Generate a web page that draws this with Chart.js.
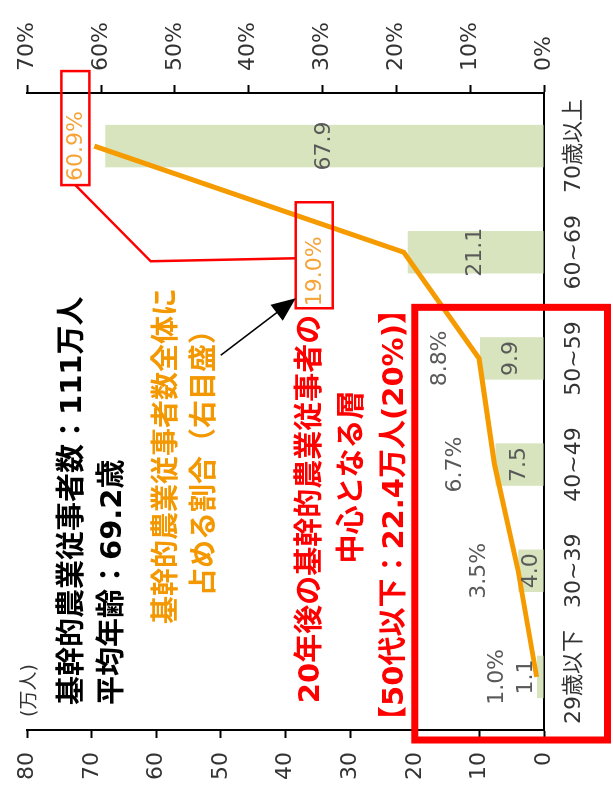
<!DOCTYPE html>
<html lang="ja">
<head>
<meta charset="utf-8">
<script src="https://cdn.jsdelivr.net/npm/chart.js@4.4.1/dist/chart.umd.min.js"></script>
<style>
  html, body { margin: 0; padding: 0; background: #fff; overflow: hidden; }
  /* chart is laid out upright (791x613) and turned a quarter left */
  #stage {
    position: absolute; left: 0; top: 0;
    width: 791px; height: 613px;
    transform-origin: 0 0;
    transform: translate(0, 791px) rotate(-90deg);
    font-family: "DejaVu Sans", "Noto Sans CJK JP", sans-serif;
  }
  #chart { position: absolute; left: 0; top: 0; }
  .note { position: absolute; white-space: nowrap; font-weight: bold; }
  .mid { transform: translateX(-50%); text-align: center; }
</style>
</head>
<body>
<div id="stage">
  <canvas id="chart" width="791" height="613"></canvas>
  <div class="note" style="left:74px; top:13px; font-weight:normal; font-size:19px; color:#333;">(万人)</div>
  <div class="note" style="left:86px; top:51px; font-size:29px; line-height:40px; color:#000;">基幹的農業従事者数：111万人<br>平均年齢：69.2歳</div>
  <div class="note mid" style="left:335px; top:147px; font-size:28px; line-height:38px; color:#F39800;">基幹的農業従事者数全体に<br>占める割合（右目盛）</div>
  <div class="note mid" style="left:282px; top:288px; font-size:29px; line-height:42px; color:#FF0000;">20年後の基幹的農業従事者の</div>
  <div class="note mid" style="left:314px; top:330px; font-size:29px; line-height:42px; color:#FF0000;">中心となる層</div>
  <div class="note mid" style="left:276px; top:372px; font-size:29px; line-height:42px; color:#FF0000;">【50代以下：22.4万人(20%)】</div>
</div>
<script>
const categories = ['29歳以下', '30~39', '40~49', '50~59', '60~69', '70歳以上'];
const farmers = [1.1, 4.0, 7.5, 9.9, 21.1, 67.9];   // 万人 (left axis)
const shares = [1.0, 3.5, 6.7, 8.8, 19.0, 60.9];    // % (right axis)
const highlighted = [4, 5];                          // shares shown in red boxes

const tickFont = { family: '"DejaVu Sans", "Noto Sans CJK JP"', size: 22 };
const labelFont = '22px "DejaVu Sans", "Noto Sans CJK JP"';

// value labels for bars and line
const valueLabels = {
    id: 'valueLabels',
    afterDatasetsDraw(chart) {
        const ctx = chart.ctx;
        const bars = chart.getDatasetMeta(1).data;
        const pts = chart.getDatasetMeta(0).data;
        ctx.save();
        ctx.font = labelFont;
        ctx.textAlign = 'center';
        ctx.textBaseline = 'middle';
        ctx.fillStyle = '#595959';
        bars.forEach((bar, i) => {
            const h = bar.base - bar.y;
            const y = h < 20 ? bar.y - 11 : (bar.y + bar.base) / 2;
            ctx.fillText(farmers[i].toFixed(1), bar.x, y);
        });
        pts.forEach((pt, i) => {
            if (highlighted.includes(i)) return;
            ctx.fillText(shares[i].toFixed(1) + '%', pt.x, pt.y - 39);
        });
        ctx.restore();
    }
};

// red boxes, connector and arrow
const callouts = {
    id: 'callouts',
    afterDraw(chart) {
        const ctx = chart.ctx;
        const x = chart.scales.x;
        const yCount = chart.scales.yCount;
        const pts = chart.getDatasetMeta(0).data;
        const band = x.getPixelForValue(1) - x.getPixelForValue(0);
        ctx.save();

        // big frame round the under-60 groups
        ctx.strokeStyle = '#FF0000';
        ctx.lineWidth = 7;
        const fx0 = x.getPixelForValue(0) - band / 2 - 10;
        const fx1 = (x.getPixelForValue(3) + x.getPixelForValue(4)) / 2 - 2;
        const fy0 = yCount.getPixelForValue(20);
        const fy1 = chart.height - 5.5;
        ctx.strokeRect(fx0, fy0, fx1 - fx0, fy1 - fy0);

        // boxed share labels
        const p5 = pts[5], p4 = pts[4];
        const box1 = { left: p5.x - 39, top: p5.y - 33, w: 114, h: 28 };
        const box2 = { left: p4.x - 56, top: p4.y - 108, w: 106, h: 37 };
        ctx.font = labelFont;
        ctx.fillStyle = '#F5A43A';
        ctx.textAlign = 'left';
        ctx.textBaseline = 'middle';
        ctx.fillText(shares[5].toFixed(1) + '%', box1.left + 4, box1.top + box1.h / 2 + 1);
        ctx.fillText(shares[4].toFixed(1) + '%', box2.left + 2, box2.top + box2.h / 2 + 1);

        ctx.lineWidth = 2.5;
        ctx.strokeRect(box1.left, box1.top, box1.w, box1.h);
        ctx.strokeRect(box2.left, box2.top, box2.w, box2.h);

        ctx.beginPath();
        ctx.moveTo(box1.left, box1.top + box1.h / 2);
        ctx.lineTo(box2.left + 47, box2.top - 145);
        ctx.lineTo(box2.left + 50, box2.top);
        ctx.stroke();

        // arrow pointing at the 19.0% box
        const sx = box2.left - 47, sy = box2.top - 75;
        const tx = box2.left + 10, ty = box2.top;
        const ang = Math.atan2(ty - sy, tx - sx);
        ctx.strokeStyle = '#000';
        ctx.fillStyle = '#000';
        ctx.lineWidth = 1.5;
        ctx.beginPath();
        ctx.moveTo(sx, sy);
        ctx.lineTo(tx - 20 * Math.cos(ang), ty - 20 * Math.sin(ang));
        ctx.stroke();
        ctx.beginPath();
        ctx.moveTo(tx, ty);
        ctx.lineTo(tx - 24 * Math.cos(ang) + 10 * Math.sin(ang), ty - 24 * Math.sin(ang) - 10 * Math.cos(ang));
        ctx.lineTo(tx - 24 * Math.cos(ang) - 10 * Math.sin(ang), ty - 24 * Math.sin(ang) + 10 * Math.cos(ang));
        ctx.closePath();
        ctx.fill();
        ctx.restore();
    }
};

new Chart(document.getElementById('chart'), {
    data: {
        labels: categories,
        datasets: [
            {
                type: 'line',
                data: shares,
                yAxisID: 'yPct',
                borderColor: '#F59B00',
                borderWidth: 5,
                pointRadius: 0,
                order: 0
            },
            {
                type: 'bar',
                data: farmers,
                yAxisID: 'yCount',
                backgroundColor: '#D7E4BD',
                categoryPercentage: 0.4,
                barPercentage: 1,
                order: 1
            }
        ]
    },
    options: {
        responsive: false,
        animation: false,
        devicePixelRatio: 1,
        layout: { padding: { top: 22, left: 0, right: 0, bottom: 0 } },
        plugins: { legend: { display: false }, tooltip: { enabled: false } },
        scales: {
            x: {
                grid: { display: false, drawTicks: false },
                border: { color: '#000', width: 2 },
                ticks: { font: tickFont, color: '#333', padding: 17, maxRotation: 0 },
                afterFit: s => { s.height = 69; }
            },
            yCount: {
                position: 'left',
                min: 0, max: 80,
                ticks: { stepSize: 10, font: tickFont, color: '#333', padding: 14 },
                grid: { drawOnChartArea: false, tickLength: 8, tickColor: '#000', tickWidth: 2 },
                border: { color: '#000', width: 2 },
                afterFit: s => { s.width = 61; }
            },
            yPct: {
                position: 'right',
                min: 0, max: 70,
                ticks: { stepSize: 10, font: tickFont, color: '#333', padding: 14, callback: v => v + '%' },
                grid: { drawOnChartArea: false, tickLength: 8, tickColor: '#000', tickWidth: 2 },
                border: { color: '#000', width: 2 },
                afterFit: s => { s.width = 93; }
            }
        }
    },
    plugins: [valueLabels, callouts]
});
</script>
</body>
</html>
